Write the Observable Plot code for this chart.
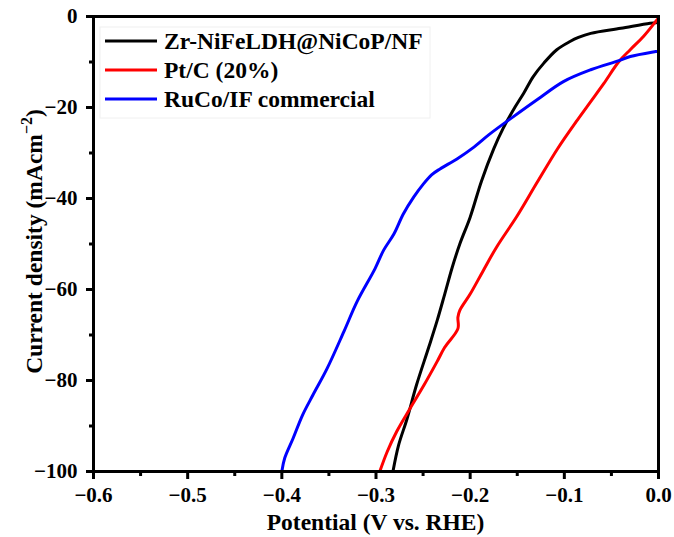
<!DOCTYPE html>
<html>
<head>
<meta charset="utf-8">
<script src="https://cdn.jsdelivr.net/npm/d3@7"></script>
<script src="https://cdn.jsdelivr.net/npm/@observablehq/plot@0.6"></script>
<style>
  html, body { margin: 0; padding: 0; background: #fff; }
  #chart { width: 674px; height: 537px; }
  svg { font-family: "Liberation Serif", "Times New Roman", serif; font-weight: bold; }
</style>
</head>
<body>
<div id="chart"></div>
<script>
// Series names and colors
const seriesNames = ["Zr-NiFeLDH@NiCoP/NF", "Pt/C (20%)", "RuCo/IF commercial"];
const seriesColors = ["#000000", "#ff0000", "#0000ff"];

// Zr-NiFeLDH@NiCoP/NF (black)
const blackX = [0, -0.009, -0.040, -0.072, -0.085, -0.094, -0.108, -0.122, -0.133, -0.143, -0.152, -0.165, -0.175, -0.188, -0.200, -0.211, -0.219, -0.227, -0.235, -0.244, -0.257, -0.267, -0.276, -0.282];
const blackY = [-1.3, -1.5, -2.6, -3.7, -4.6, -5.5, -7.3, -10.3, -13.2, -16.8, -19.8, -24.6, -29.1, -36.2, -44.1, -50.0, -55.1, -61.0, -66.8, -72.7, -81.0, -88.4, -94.2, -100];

// Pt/C (20%) (red)
const redX = [0, -0.003, -0.016, -0.030, -0.042, -0.058, -0.072, -0.086, -0.107, -0.129, -0.150, -0.172, -0.186, -0.200, -0.211, -0.213, -0.213, -0.227, -0.235, -0.249, -0.264, -0.278, -0.288, -0.296];
const redY = [-0.3, -1.1, -4.4, -7.3, -9.9, -14.7, -18.7, -22.7, -29.0, -36.5, -43.8, -50.7, -55.8, -61.0, -64.6, -66.1, -68.6, -72.7, -75.8, -81.0, -86.2, -91.2, -95.6, -100];

// RuCo/IF commercial (blue)
const blueX = [0, -0.003, -0.030, -0.042, -0.072, -0.101, -0.129, -0.154, -0.179, -0.196, -0.214, -0.232, -0.241, -0.250, -0.260, -0.271, -0.281, -0.292, -0.301, -0.320, -0.334, -0.352, -0.367, -0.378, -0.388, -0.397, -0.400];
const blueY = [-7.6, -7.7, -8.8, -9.7, -11.7, -14.3, -18.3, -22.0, -25.8, -28.7, -31.3, -33.5, -34.8, -36.9, -39.7, -43.4, -47.8, -51.4, -55.4, -62.6, -69.2, -77.4, -83.2, -87.6, -92.7, -97.1, -100];

// Ticks
const xMajorTicks = [-0.6, -0.5, -0.4, -0.3, -0.2, -0.1, 0.0];
const xMinorTicks = [-0.55, -0.45, -0.35, -0.25, -0.15, -0.05];
const yMajorTicks = [0, -20, -40, -60, -80, -100];
const yMinorTicks = [-10, -30, -50, -70, -90];

const xLabel = "Potential (V vs. RHE)";
const yLabelMain = "Current density (mAcm";
const yLabelSup = "−2";
const yLabelEnd = ")";

const allX = [blackX, redX, blueX];
const allY = [blackY, redY, blueY];
const data = [];
allX.forEach((xs, s) => xs.forEach((x, i) => data.push({x, y: allY[s][i], series: seriesNames[s]})));

const fmtX = d => (d < 0 ? "−" : "") + Math.abs(d).toFixed(1);
const fmtY = d => (d < 0 ? "−" : "") + Math.abs(d);

const chart = Plot.plot({
  width: 674,
  height: 537,
  marginLeft: 93,
  marginRight: 16,
  marginTop: 16,
  marginBottom: 66,
  style: {fontFamily: "Liberation Serif, Times New Roman, serif", fontWeight: "bold", fontSize: "21px", color: "#000", background: "#fff"},
  x: {domain: [-0.6, 0]},
  y: {domain: [-100, 0]},
  color: {domain: seriesNames, range: seriesColors},
  marks: [
    Plot.line(data, {x: "x", y: "y", z: "series", stroke: "series", strokeWidth: 3, clip: true, curve: "catmull-rom", strokeLinejoin: "round"}),
    Plot.axisX({ticks: xMinorTicks, tickFormat: () => "", tickSize: 5, strokeWidth: 3, label: null}),
    Plot.axisX({ticks: xMajorTicks, tickFormat: fmtX, tickSize: 8, strokeWidth: 3, tickPadding: 8, label: null, fontSize: 21}),
    Plot.axisY({ticks: yMinorTicks, tickFormat: () => "", tickSize: 4, strokeWidth: 3, label: null}),
    Plot.axisY({ticks: yMajorTicks, tickFormat: fmtY, tickSize: 7, strokeWidth: 3, tickPadding: 9, label: null, fontSize: 21}),
    Plot.frame({stroke: "#000", strokeWidth: 3})
  ]
});

document.getElementById("chart").appendChild(chart);

const svg = d3.select(chart);

// X axis label
svg.append("text")
  .attr("x", (93 + 658) / 2)
  .attr("y", 530)
  .attr("text-anchor", "middle")
  .attr("font-size", 23.5)
  .attr("font-weight", "bold")
  .attr("fill", "#000")
  .text(xLabel);

// Y axis label with superscript
const yl = svg.append("text")
  .attr("transform", `translate(42, ${(16 + 471) / 2 - 2}) rotate(-90)`)
  .attr("text-anchor", "middle")
  .attr("font-size", 23.5)
  .attr("font-weight", "bold")
  .attr("fill", "#000");
yl.append("tspan").text(yLabelMain);
yl.append("tspan").attr("font-size", 16).attr("dy", -10).text(yLabelSup);
yl.append("tspan").attr("dy", 10).text(yLabelEnd);

// Legend
const lg = svg.append("g");
lg.append("rect")
  .attr("x", 100).attr("y", 27).attr("width", 330).attr("height", 91)
  .attr("fill", "none").attr("stroke", "#f0f0f0").attr("stroke-width", 1);
seriesNames.forEach((name, i) => {
  const yy = 41 + i * 29;
  lg.append("line")
    .attr("x1", 105).attr("x2", 157).attr("y1", yy).attr("y2", yy)
    .attr("stroke", seriesColors[i]).attr("stroke-width", 3);
  lg.append("text")
    .attr("x", 164).attr("y", yy)
    .attr("dy", "0.35em")
    .attr("text-anchor", "start")
    .attr("font-size", 23.5)
    .attr("font-weight", "bold")
    .attr("fill", "#000")
    .text(name);
});
</script>
</body>
</html>
